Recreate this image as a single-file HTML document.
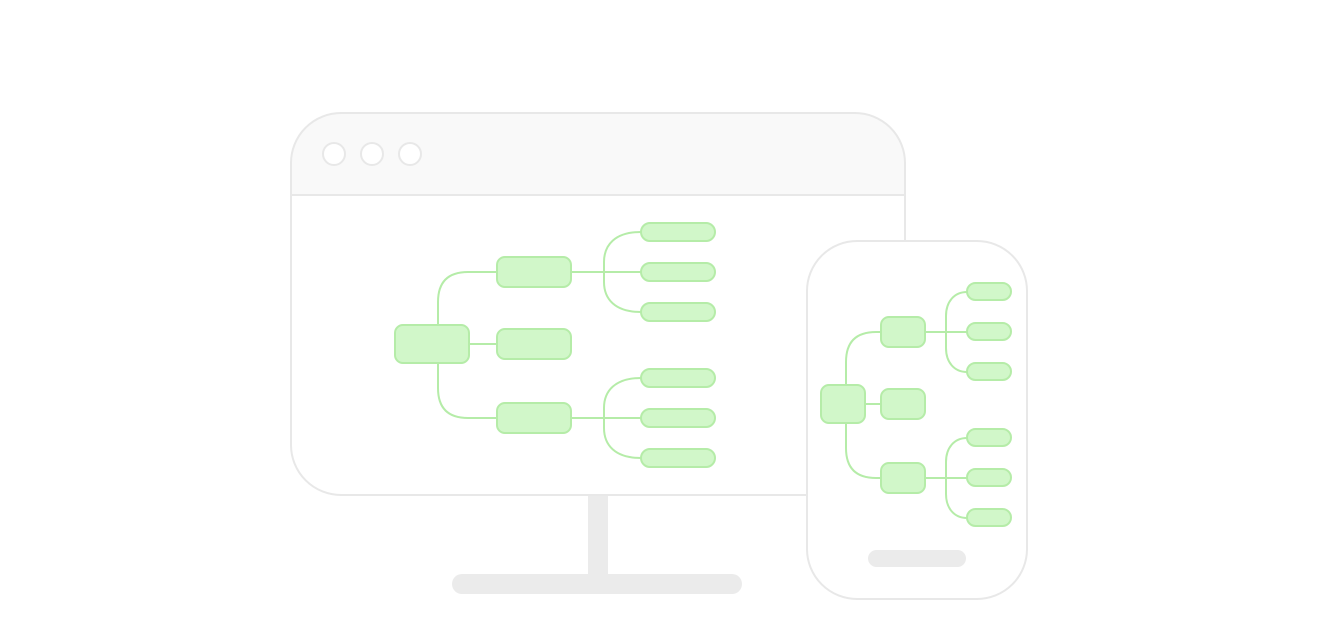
<!DOCTYPE html>
<html><head><style>html,body{margin:0;padding:0;background:#fff}svg{display:block}</style></head><body>
<svg width="1320" height="620" viewBox="0 0 1320 620" xmlns="http://www.w3.org/2000/svg">
<!-- stand -->
<rect x="588" y="494" width="20" height="82" fill="#ebebeb"/>
<rect x="452" y="574" width="290" height="20" rx="10" fill="#ebebeb"/>
<!-- monitor -->
<path d="M291,195 V163 A50,50 0 0 1 341,113 H855 A50,50 0 0 1 905,163 V195 Z" fill="#f9f9f9"/>
<rect x="291" y="113" width="614" height="382" rx="50" fill="none" stroke="#e8e8e8" stroke-width="2"/>
<line x1="291" y1="195" x2="905" y2="195" stroke="#e8e8e8" stroke-width="2"/>
<g fill="#fff" stroke="#e8e8e8" stroke-width="2">
<circle cx="334" cy="154" r="11"/><circle cx="372" cy="154" r="11"/><circle cx="410" cy="154" r="11"/>
</g>
<!-- monitor mindmap -->
<g fill="none" stroke="#b5eca8" stroke-width="2">
<path d="M438,325 V302 Q438,272 468,272 H497"/>
<path d="M469,344 H497"/>
<path d="M438,363 V388 Q438,418 468,418 H497"/>
<path d="M571,272 H641"/>
<path d="M641,232 C615,232 604,245 604,262 V282 C604,299 615,312 641,312"/>
<path d="M571,418 H641"/>
<path d="M641,378 C615,378 604,391 604,408 V428 C604,445 615,458 641,458"/>
</g>
<g fill="#d1f7c9" stroke="#b5eca8" stroke-width="2">
<rect x="395" y="325" width="74" height="38" rx="8"/>
<rect x="497" y="257" width="74" height="30" rx="8"/>
<rect x="497" y="329" width="74" height="30" rx="8"/>
<rect x="497" y="403" width="74" height="30" rx="8"/>
<rect x="641" y="223" width="74" height="18" rx="9"/>
<rect x="641" y="263" width="74" height="18" rx="9"/>
<rect x="641" y="303" width="74" height="18" rx="9"/>
<rect x="641" y="369" width="74" height="18" rx="9"/>
<rect x="641" y="409" width="74" height="18" rx="9"/>
<rect x="641" y="449" width="74" height="18" rx="9"/>
</g>
<!-- phone -->
<rect x="807" y="241" width="220" height="358" rx="50" fill="#fff" stroke="#e8e8e8" stroke-width="2"/>
<rect x="868" y="550" width="98" height="17" rx="8.5" fill="#ebebeb"/>
<g fill="none" stroke="#b5eca8" stroke-width="2">
<path d="M846,385 V362 Q846,332 876,332 H881"/>
<path d="M865,404 H881"/>
<path d="M846,423 V448 Q846,478 876,478 H881"/>
<path d="M925,332 H967"/>
<path d="M967,292 C954,292 946,302 946,316 V348 C946,362 954,372 967,372"/>
<path d="M925,478 H967"/>
<path d="M967,438 C954,438 946,448 946,462 V494 C946,508 954,518 967,518"/>
</g>
<g fill="#d1f7c9" stroke="#b5eca8" stroke-width="2">
<rect x="821" y="385" width="44" height="38" rx="8"/>
<rect x="881" y="317" width="44" height="30" rx="8"/>
<rect x="881" y="389" width="44" height="30" rx="8"/>
<rect x="881" y="463" width="44" height="30" rx="8"/>
<rect x="967" y="283" width="44" height="17" rx="8.5"/>
<rect x="967" y="323" width="44" height="17" rx="8.5"/>
<rect x="967" y="363" width="44" height="17" rx="8.5"/>
<rect x="967" y="429" width="44" height="17" rx="8.5"/>
<rect x="967" y="469" width="44" height="17" rx="8.5"/>
<rect x="967" y="509" width="44" height="17" rx="8.5"/>
</g>
</svg>
</body></html>
